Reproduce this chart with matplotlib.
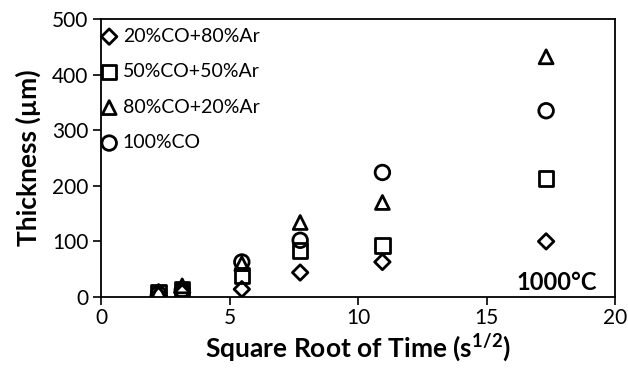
import numpy as np
import matplotlib.pyplot as plt

plt.rcParams['font.family'] = ['Lato', 'DejaVu Sans']
plt.rcParams['mathtext.fontset'] = 'custom'
plt.rcParams['mathtext.bf'] = 'Lato:bold'
plt.rcParams['mathtext.rm'] = 'Lato'

# square root of exposure time (s^1/2)
sqrt_t = [2.24, 3.16, 5.48, 7.75, 10.95, 17.32]

# oxide thickness (um) for each gas mixture
co20 = [3, 8, 14, 44, 63, 100]
co50 = [8, 14, 39, 84, 93, 213]
co80 = [10, 20, 60, 134, 170, 432]
co100 = [6, 12, 63, 102, 224, 335]

labels = ['20%CO+80%Ar', '50%CO+50%Ar', '80%CO+20%Ar', '100%CO']

fig = plt.figure(figsize=(6.28, 3.74), dpi=100)
ax = fig.add_axes([101 / 628, 1 - 297 / 374, (615 - 101) / 628, (297 - 19) / 374])

style = dict(facecolor='none', edgecolors='black', linewidths=2, zorder=3)
ax.scatter(sqrt_t, co20, marker='D', s=62, label=labels[0], **style)
ax.scatter(sqrt_t, co50, marker='s', s=110, label=labels[1], **style)
ax.scatter(sqrt_t, co80, marker='^', s=100, label=labels[2], **style)
ax.scatter(sqrt_t, co100, marker='o', s=110, label=labels[3], **style)

ax.set_xlim(0, 20)
ax.set_ylim(0, 500)
ax.set_xticks([0, 5, 10, 15, 20])
ax.set_yticks([0, 100, 200, 300, 400, 500])
ax.tick_params(axis='both', direction='out', length=6, width=1.2, labelsize=15, pad=3)
ax.tick_params(axis='x', pad=2)
for s in ax.spines.values():
    s.set_linewidth(1.3)

ax.set_xlabel('Square Root of Time (s$^{\\mathbf{1/2}}$)', fontsize=19, fontweight='bold', labelpad=2)
ax.set_ylabel('Thickness (µm)', fontsize=19, fontweight='bold', labelpad=8)

ax.text(0.965, 0.01, '1000°C', transform=ax.transAxes, ha='right', va='bottom',
        fontsize=17, fontweight='bold')

ax.legend(loc='upper left', frameon=False, fontsize=14, handletextpad=0.2,
          labelspacing=0.95, borderaxespad=0.0, borderpad=0.45, handlelength=1.0,
          bbox_to_anchor=(-0.02, 1.0))

fig.savefig('out.png', dpi=100)
